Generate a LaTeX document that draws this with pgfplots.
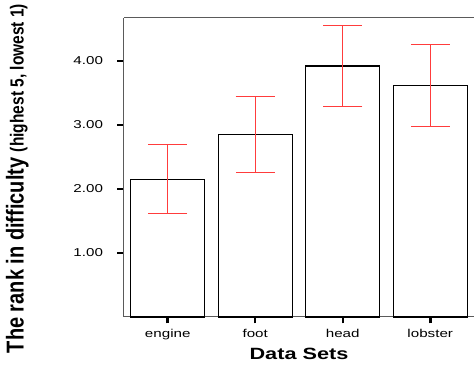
\documentclass[border=0pt]{standalone}
\usepackage{pgfplots}
\pgfplotsset{compat=1.18}
\usepackage{fontspec}
\setmainfont{Liberation Sans}
\usepackage{graphicx}
\definecolor{errred}{RGB}{255,60,60}
\definecolor{framegray}{RGB}{90,90,90}
\begin{document}
\begin{tikzpicture}[x=1pt,y=1pt]
\useasboundingbox (-124,-49) rectangle (350,317);
\begin{axis}[
  at={(0,0)}, anchor=south west,
  scale only axis, width=350pt, height=299pt,
  xmin=-0.5, xmax=3.5, ymin=0, ymax=4.67,
  axis x line*=box, axis y line*=left,
  axis line style={framegray, line width=1pt, -},
  tick align=outside,
  xtick pos=bottom, ytick pos=left,
  major tick length=6.5pt,
  xtick={0,1,2,3},
  xticklabels={\scalebox{1.33}[1]{engine},\scalebox{1.33}[1]{foot},\scalebox{1.33}[1]{head},\scalebox{1.33}[1]{lobster}},
  ytick={1,2,3,4},
  yticklabel={\scalebox{1.33}[1]{\pgfmathprintnumber[fixed,fixed zerofill,precision=2,assume math mode=true]{\tick}}},
  tick style={black, line width=2.5pt},
  ticklabel style={font=\fontsize{11.4}{13}\selectfont},
  xticklabel style={yshift=-2pt},
  yticklabel style={xshift=-11pt},
  xlabel={\scalebox{1.33}[1]{\fontsize{16.3}{18}\selectfont\bfseries Data Sets}},
  xlabel style={at={(axis description cs:0.5,-0.1237)}, anchor=center},
  ylabel={\scalebox{1}[1.22]{\bfseries\fontsize{20}{22}\selectfont The rank in difficulty \fontsize{15.5}{17}\selectfont(highest 5, lowest 1)}},
  ylabel style={at={(axis description cs:-0.305,0.463)}, anchor=center},
  clip=false,
]
\addplot[ybar, bar width=74pt, draw=black, line width=1.2pt, fill=white,
  error bars/.cd, y dir=both, y explicit,
  error bar style={errred, line width=1pt},
  error mark options={errred, line width=1pt, mark size=19.5pt, rotate=90}]
  table[x=x, y=y, y error plus=ep, y error minus=em] {
x y ep em
0 2.15 0.55 0.53
1 2.85 0.60 0.60
2 3.92 0.63 0.63
3 3.61 0.64 0.63
};
\end{axis}
\end{tikzpicture}
\end{document}
